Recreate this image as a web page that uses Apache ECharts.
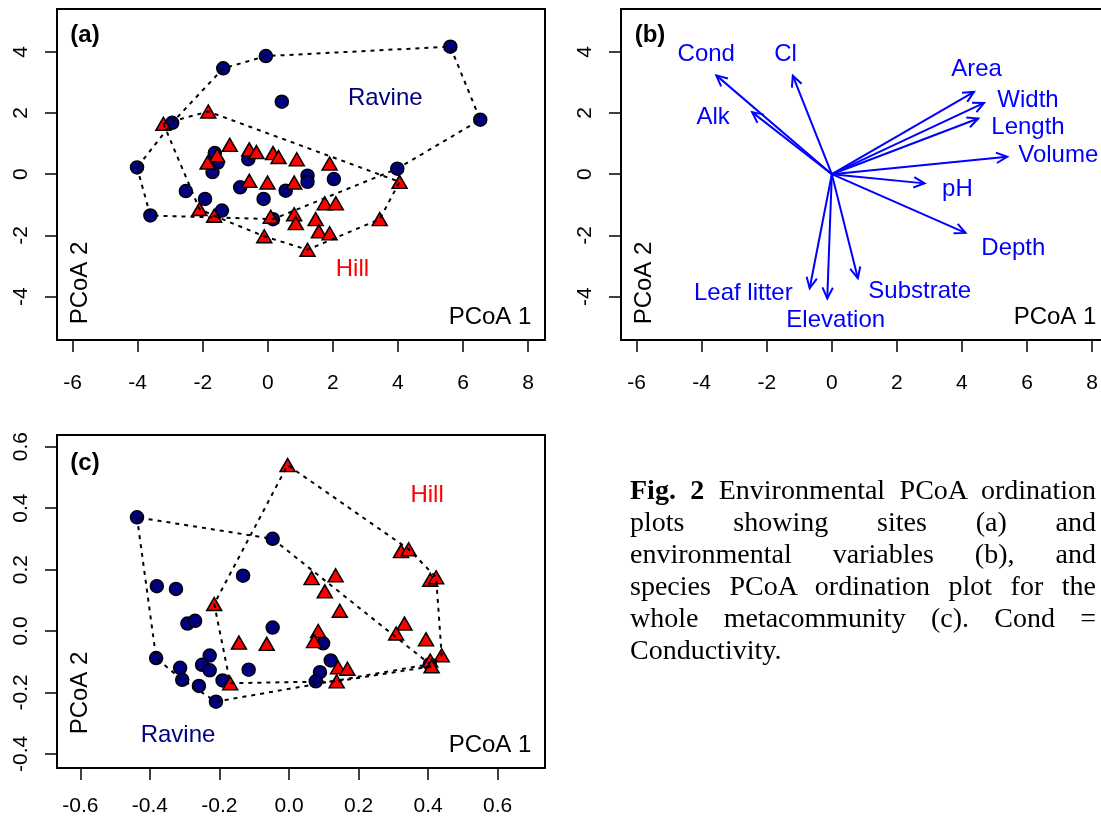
<!DOCTYPE html>
<html><head><meta charset="utf-8">
<script src="https://cdn.jsdelivr.net/npm/echarts@6/dist/echarts.min.js"></script>
<style>
html,body{margin:0;padding:0;background:#fff;}
#chart{width:1101px;height:816px;position:absolute;left:0;top:0;}
#caption{position:absolute;left:630px;top:474px;width:466px;font-family:'Liberation Serif','Times New Roman',serif;font-size:28px;line-height:32px;color:#000;}
#caption .ln{text-align:justify;text-align-last:justify;}
#caption .last{text-align:left;text-align-last:left;}
</style></head>
<body>
<div id="chart"></div>
<div id="caption">
<div class="ln"><b>Fig. 2</b> Environmental PCoA ordination</div>
<div class="ln">plots showing sites (a) and</div>
<div class="ln">environmental variables (b), and</div>
<div class="ln">species PCoA ordination plot for the</div>
<div class="ln">whole metacommunity (c). Cond =</div>
<div class="last">Conductivity.</div>
</div>
<script>
// ---------- Panel (a): sites ----------
const ravineA_x = [-4.02,-2.94,-1.37,-0.06,0.43,5.61,6.53,3.98,-0.60,-1.63,-1.54,-1.70,-0.85,-0.13,0.55,1.22,1.22,2.03,-2.52,-1.93,-1.41,-3.61,0.16];
const ravineA_y = [0.22,1.68,3.46,3.86,2.37,4.17,1.78,0.18,0.49,0.69,0.38,0.07,-0.43,-0.81,-0.54,-0.05,-0.25,-0.16,-0.55,-0.81,-1.19,-1.35,-1.47];
const hillA_x = [-3.21,-1.83,-1.17,-0.57,-0.35,0.16,0.33,0.89,-1.56,-1.85,1.90,-0.57,-0.01,0.81,4.05,-2.10,-1.65,0.09,0.81,0.86,-0.11,1.22,1.75,2.09,1.47,1.57,1.90,3.44];
const hillA_y = [1.65,2.05,0.96,0.81,0.72,0.69,0.56,0.49,0.62,0.38,0.35,-0.22,-0.27,-0.27,-0.25,-1.14,-1.36,-1.39,-1.31,-1.60,-2.03,-2.47,-0.95,-0.95,-1.47,-1.87,-1.93,-1.47];
const ticksAB_x = [-6,-4,-2,0,2,4,6,8];
const ticksAB_y = [-4,-2,0,2,4];

// ---------- Panel (b): environmental variables ----------
const envNames = ['Cond','Cl','Alk','Area','Width','Length','Volume','pH','Depth','Leaf litter','Elevation','Substrate'];
const envX = [-3.55,-1.20,-2.45,4.37,4.68,4.50,5.39,2.85,4.11,-0.68,-0.14,0.80];
const envY = [3.23,3.22,2.03,2.69,2.33,1.82,0.57,-0.30,-1.92,-3.73,-4.06,-3.40];
const envLabelX = [-3.86,-1.42,-3.65,4.45,6.03,6.03,6.96,3.86,5.58,-2.72,0.12,2.70];
const envLabelY = [3.93,3.91,1.87,3.42,2.41,1.54,0.62,-0.49,-2.42,-3.91,-4.78,-3.83];

// ---------- Panel (c): species ----------
const ravineC_x = [-0.437,-0.047,-0.380,-0.325,-0.132,-0.292,-0.270,-0.047,-0.382,-0.228,-0.250,-0.228,-0.313,-0.307,-0.116,-0.259,-0.191,-0.210,0.098,0.120,0.089,0.077,0.405];
const ravineC_y = [0.370,0.300,0.146,0.137,0.180,0.024,0.033,0.011,-0.088,-0.080,-0.110,-0.128,-0.120,-0.159,-0.126,-0.179,-0.161,-0.230,-0.040,-0.096,-0.134,-0.164,-0.108];
const hillC_x = [-0.004,-0.215,-0.144,-0.064,-0.169,0.146,0.332,0.308,0.084,0.072,0.394,0.439,0.406,0.410,0.141,0.168,0.137,0.322,0.344,0.406,0.423,0.065,0.134,0.103];
const hillC_y = [0.540,0.088,-0.038,-0.042,-0.170,0.066,0.024,-0.008,0.000,-0.033,-0.027,-0.079,-0.096,-0.115,-0.118,-0.123,-0.164,0.260,0.266,0.167,0.175,0.172,0.181,0.129];
const ticksC_x = [-0.6,-0.4,-0.2,0,0.2,0.4,0.6];
const ticksC_y = [-0.4,-0.2,0,0.2,0.4,0.6];

// group labels placed in data coordinates
const groupLabelsA = [{text:'Ravine', x:3.61, y:2.48, color:'#000080'},{text:'Hill', x:2.60, y:-3.10, color:'#ff0000'}];
const groupLabelsC = [{text:'Hill', x:0.397, y:0.443, color:'#ff0000'},{text:'Ravine', x:-0.319, y:-0.339, color:'#000080'}];

const FONT = "'Liberation Sans', Arial, Helvetica, sans-serif";
const NAVY = '#000080', RED = '#ff0000', BLUE = '#0000ff';

function pairs(xs, ys){ return xs.map((x,i)=>[x, ys[i]]); }
function hull(xs, ys){
  const pts = pairs(xs, ys).sort((a,b)=>a[0]-b[0]||a[1]-b[1]);
  const cr=(o,a,b)=>(a[0]-o[0])*(b[1]-o[1])-(a[1]-o[1])*(b[0]-o[0]);
  const lo=[]; for(const p of pts){ while(lo.length>=2&&cr(lo[lo.length-2],lo[lo.length-1],p)<=0) lo.pop(); lo.push(p); }
  const up=[]; for(let i=pts.length-1;i>=0;i--){ const p=pts[i]; while(up.length>=2&&cr(up[up.length-2],up[up.length-1],p)<=0) up.pop(); up.push(p); }
  lo.pop(); up.pop(); const h=lo.concat(up); h.push(h[0]); return h;
}

const gridStyle = {show:true, borderColor:'#000', borderWidth:2, backgroundColor:'transparent', outerBoundsMode:'none', containLabel:false};
function xAx(gi, min, max, ticks, fmt, margin){
  return {type:'value', gridIndex:gi, min:min, max:max, position:'bottom',
    splitLine:{show:false}, axisLine:{show:false, onZero:false},
    axisTick:{show:true, inside:false, length:12, lineStyle:{color:'#000', width:1.5}, customValues:ticks},
    axisLabel:{show:true, customValues:ticks, margin:margin, fontSize:21, color:'#000', fontFamily:FONT, formatter:fmt}};
}
function yAx(gi, min, max, ticks, fmt){
  return {type:'value', gridIndex:gi, min:min, max:max, position:'left',
    splitLine:{show:false}, axisLine:{show:false, onZero:false},
    axisTick:{show:true, inside:false, length:12, lineStyle:{color:'#000', width:1.5}, customValues:ticks},
    axisLabel:{show:true, customValues:ticks, rotate:90, margin:25, fontSize:21, color:'#000', fontFamily:FONT, formatter:fmt}};
}
const intFmt = v => String(Math.round(v));
const decFmt = v => v.toFixed(1);

function hullSeries(ai, xs, ys){
  return {type:'line', xAxisIndex:ai, yAxisIndex:ai, data:hull(xs, ys), symbol:'none', silent:true, z:5,
    lineStyle:{color:'#000', width:2, type:[4,5]}};
}
function ptSeries(ai, xs, ys, isHill){
  return {type:'scatter', xAxisIndex:ai, yAxisIndex:ai, data:pairs(xs, ys), silent:true, z:3,
    symbol: isHill ? 'triangle' : 'circle', symbolSize: isHill ? [15,13] : 13,
    itemStyle:{color: isHill ? RED : NAVY, borderColor:'#000', borderWidth:1.5, opacity:1}};
}
function textSeries(ai, items, size){
  return {type:'custom', xAxisIndex:ai, yAxisIndex:ai, silent:true, z:6, clip:false,
    data: items.map(d=>[d.x, d.y]),
    renderItem:(params, api)=>{
      const d = items[params.dataIndex];
      const p = api.coord([api.value(0), api.value(1)]);
      return {type:'text', x:p[0], y:p[1], style:{text:d.text, fill:d.color, fontSize:size, fontFamily:FONT, align:'center', verticalAlign:'middle'}};
    }};
}

const envLabelItems = envNames.map((n,i)=>({text:n, x:envLabelX[i], y:envLabelY[i], color:BLUE}));

const arrowSeries = {type:'custom', xAxisIndex:1, yAxisIndex:1, silent:true, z:4, clip:false,
  data: pairs(envX, envY),
  renderItem:(params, api)=>{
    const o = api.coord([0,0]);
    const p = api.coord([api.value(0), api.value(1)]);
    const ang = Math.atan2(p[1]-o[1], p[0]-o[0]);
    const L = 12, A = Math.PI/7;
    const h1 = [p[0]-L*Math.cos(ang-A), p[1]-L*Math.sin(ang-A)];
    const h2 = [p[0]-L*Math.cos(ang+A), p[1]-L*Math.sin(ang+A)];
    return {type:'group', children:[
      {type:'polyline', shape:{points:[o,p]}, style:{stroke:BLUE, lineWidth:2, fill:null}},
      {type:'polyline', shape:{points:[h1,p,h2]}, style:{stroke:BLUE, lineWidth:2, fill:null}}
    ]};
  }};

function txt(x, y, text, opts){
  return Object.assign({type:'text', x:x, y:y, silent:true, z:10,
    style:Object.assign({text:text, fill:'#000', fontSize:24, fontFamily:FONT, align:'center', verticalAlign:'middle'}, opts||{})});
}

const chart = echarts.init(document.getElementById('chart'), null, {renderer:'canvas'});
chart.setOption({
  animation:false,
  backgroundColor:'#fff',
  grid:[
    Object.assign({left:57, top:9, width:488, height:331}, gridStyle),
    Object.assign({left:621, top:9, width:492, height:331}, gridStyle),
    Object.assign({left:57, top:435, width:488, height:333}, gridStyle)
  ],
  xAxis:[ xAx(0,-6.48,8.52,ticksAB_x,intFmt,33), xAx(1,-6.48,8.643,ticksAB_x,intFmt,33), xAx(2,-0.667,0.736,ticksC_x,decFmt,28) ],
  yAxis:[ yAx(0,-5.42,5.40,ticksAB_y,intFmt), yAx(1,-5.42,5.40,ticksAB_y,intFmt), yAx(2,-0.446,0.638,ticksC_y,decFmt) ],
  series:[
    ptSeries(0, ravineA_x, ravineA_y, false),
    ptSeries(0, hillA_x, hillA_y, true),
    hullSeries(0, ravineA_x, ravineA_y),
    hullSeries(0, hillA_x, hillA_y),
    textSeries(0, groupLabelsA, 24),
    arrowSeries,
    textSeries(1, envLabelItems, 24),
    ptSeries(2, ravineC_x, ravineC_y, false),
    ptSeries(2, hillC_x, hillC_y, true),
    hullSeries(2, ravineC_x, ravineC_y),
    hullSeries(2, hillC_x, hillC_y),
    textSeries(2, groupLabelsC, 24)
  ],
  graphic:[
    txt(85, 35, '(a)', {fontWeight:'bold'}),
    txt(650, 35, '(b)', {fontWeight:'bold'}),
    txt(85, 463, '(c)', {fontWeight:'bold'}),
    txt(490, 317, 'PCoA 1'),
    txt(1055, 317, 'PCoA 1'),
    txt(490, 745, 'PCoA 1'),
    Object.assign(txt(80, 283, 'PCoA 2'), {rotation:Math.PI/2}),
    Object.assign(txt(644, 283, 'PCoA 2'), {rotation:Math.PI/2}),
    Object.assign(txt(80, 693, 'PCoA 2'), {rotation:Math.PI/2})
  ]
});
</script>
</body></html>
